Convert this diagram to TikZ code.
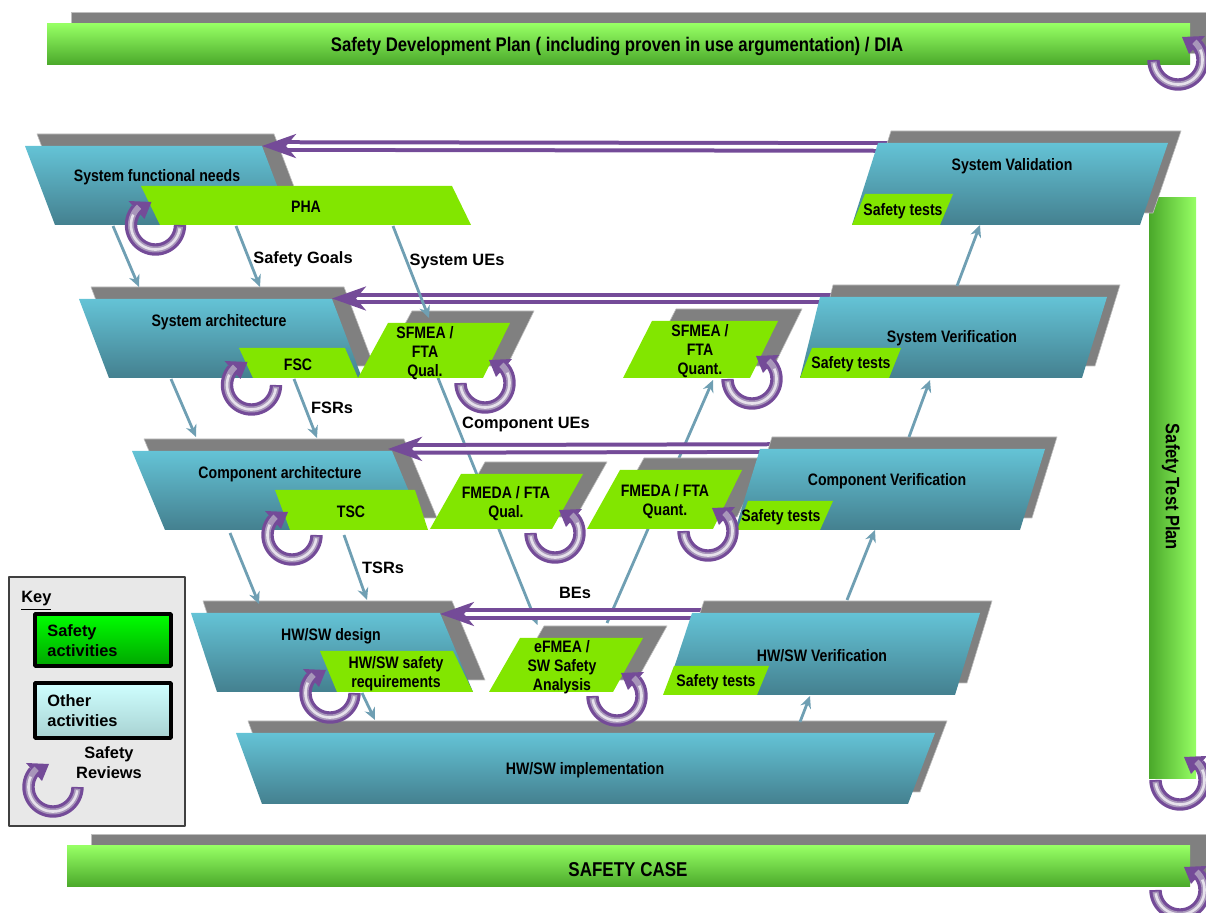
\documentclass[tikz,border=0pt]{standalone}
\usepackage{fontspec}
\setmainfont{Liberation Sans}
\newfontfamily\boxfont{Liberation Sans}[FakeStretch=0.85]
\usetikzlibrary{arrows.meta}
\definecolor{actblue}{HTML}{64C3D6}
\definecolor{actmid}{HTML}{5BAEC0}
\definecolor{actbluedk}{HTML}{44808F}
\definecolor{actgreen}{HTML}{82E600}
\definecolor{barlight}{HTML}{96FF64}
\definecolor{bardark}{HTML}{4AA82A}
\definecolor{flowblue}{HTML}{6F9FB3}
\definecolor{reviewpurple}{HTML}{744B98}
\definecolor{reviewmid}{HTML}{A896BA}
\definecolor{reviewcore}{HTML}{E6E1EB}
\definecolor{otherlight}{HTML}{CFFFFF}
\definecolor{otherdark}{HTML}{A8D2D2}
\newcommand{\bluebox}[7]{
\fill[backdrop] (#1+#7,#5-12) -- (#2+#7,#5-12) -- (#4+#7,#6-12) -- (#3+#7,#6-12) -- cycle;
\shade[blueact] (#1,#5) -- (#2,#5) -- (#4,#6) -- (#3,#6) -- cycle;}
\newcommand{\greenbox}[7]{
\fill[backdrop] (#1+#7,#5-12) -- (#2+#7,#5-12) -- (#4+#7,#6-12) -- (#3+#7,#6-12) -- cycle;
\fill[greenact] (#1,#5) -- (#2,#5) -- (#4,#6) -- (#3,#6) -- cycle;}
\begin{document}
\begin{tikzpicture}[x=0.5pt,y=-0.5pt,line join=round,
backdrop/.style={fill=black!50,draw=black!25,line width=0.3pt},
blueact/.style={top color=actblue,middle color=actmid,bottom color=actbluedk},
greenact/.style={fill=actgreen},
planbar/.style={top color=barlight,bottom color=bardark},
flow/.style={draw=flowblue,line width=1.4pt,-{Stealth[length=6pt,width=5.5pt]}},
feedback/.style={draw=reviewpurple,line width=2pt,double=white,double distance=1.8pt,-{Stealth[length=17pt,width=12pt,inset=5pt]}},
boxtext/.style={inner sep=0pt,align=center,yshift=-1pt,font=\boxfont\bfseries\fontsize{8.3}{9.6}\selectfont},
flowtext/.style={inner sep=0pt,align=center,yshift=-1pt,font=\bfseries\fontsize{8.2}{10}\selectfont},
keytext/.style={inner sep=0pt,align=left,anchor=west,font=\bfseries\fontsize{8.2}{10}\selectfont}]
\useasboundingbox (0,0) rectangle (1206,913);
\clip (0,0) rectangle (1206,913);
\fill[backdrop] (71,12) rectangle (1207,53);
\shade[planbar] (47,24) rectangle (1190,65);
\fill[backdrop] (91,834) rectangle (1207,875);
\shade[planbar] (67,846) rectangle (1190,887);
\shade[left color=bardark,right color=barlight] (1149,198) rectangle (1196,779);
\foreach \n/\x/\y in {ceA/438/378,ceB/537.5/625,mcA/607/623,mcB/713/380}{\coordinate (\n) at (\x,\y);}
\draw[flow] (ceA) -- (ceB);
\draw[flow] (mcA) -- (mcB);
\bluebox{25}{262}{55}{292}{146}{225}{12}
\bluebox{79}{332}{109}{362}{299}{378}{12}
\bluebox{132}{392}{165}{425}{451}{530}{12}
\bluebox{191}{440}{217}{473}{613}{692}{12}
\bluebox{236}{935}{262}{908}{733}{804}{12}
\greenbox{388}{510}{358}{483}{323}{378}{24}
\greenbox{652}{778}{623}{750}{321}{378}{24}
\greenbox{461}{583}{430}{552}{474}{529}{24}
\greenbox{620}{742}{587}{713}{470}{529}{24}
\greenbox{520}{643}{489}{613}{638}{692}{24}
\foreach \n/\x/\y in {sysA/900/147,sysB/262/146,arcA/850/298.5,arcB/332/298.5,cmpA/790/448,cmpB/388/449,hwA/720/614,hwB/440/614}{\coordinate (\n) at (\x,\y);}
\foreach \a/\b in {sysA/sysB,arcA/arcB,cmpA/cmpB,hwA/hwB}{\draw[feedback] (\a) -- (\b);}
\bluebox{878}{1168}{852}{1140}{143}{225}{13}
\bluebox{820}{1107}{800}{1082}{297}{378}{13}
\bluebox{760}{1045}{735}{1020}{449}{530}{12}
\bluebox{692}{980}{665}{955}{613}{695}{12}
\foreach \xa/\xb/\xc/\xd/\yt/\yb in {141/452/160/471/186/225,239/345/253/358/348/378,275/415/290/428/490/530,320/453/337/473/651/692,865/953/852/940/194/225,812/901/800/889/348/378,748/833/737/820/501/530,674/769/663/757/666/695}{
\fill[greenact] (\xa,\yt) -- (\xb,\yt) -- (\xd,\yb) -- (\xc,\yb) -- cycle;}
\foreach \n/\x/\y in {fnA/113/226,fnB/139/287,sgA/236/226,sgB/260/287,ueA/393/226,ueB/429/318,saA/171/379,saB/196/437,frA/294/379,frB/317/438,caA/230/533,caB/259/604,trA/344/535,trB/367/600,hwrA/362/693,hwrB/375/720,imA/800/722,imB/810/696,hvA/847/600,hvB/875/530,cvA/909/437,cvB/930/380,svA/957/286,svB/980/225}{\coordinate (\n) at (\x,\y);}
\foreach \a/\b in {fnA/fnB,sgA/sgB,ueA/ueB,saA/saB,frA/frB,caA/caB,trA/trB,hwrA/hwrB,imA/imB,hvA/hvB,cvA/cvB,svA/svB}{\draw[flow] (\a) -- (\b);}
\fill[black!9] (9,577) rectangle (185,826);
\draw[black!75,line width=0.6pt] (9,577) rectangle (185,826);
\shade[top color=green,bottom color=green!65!black,draw=black,line width=1.8pt] (35,614) rectangle (171,666);
\shade[top color=otherlight,bottom color=otherdark,draw=black,line width=1.8pt] (35,683) rectangle (171,738);
\foreach \cx/\cy/\d in {155.5/225/-1,251.5/385/-1,292/535/-1,330/693/-1,53/787/-1,1178/60/1,1180/780/1,1180/890/1,485/383/1,752/379/1,555/533/1,708/531/1,617/696/1}{
\draw[reviewpurple,line width=6.2pt] plot[smooth,samples=45,domain=180:-40] ({\cx+\d*24.5*cos(\x)},{\cy+24.5*sin(\x)});
\fill[reviewpurple] (\cx+\d*4,\cy-23) -- (\cx+\d*27,\cy-24) -- (\cx+\d*11,\cy-6) -- cycle;
\draw[reviewmid,line width=3pt] plot[smooth,samples=45,domain=176:-48] ({\cx+\d*24.5*cos(\x)},{\cy+24.5*sin(\x)});
\draw[reviewcore,line width=1.3pt] plot[smooth,samples=45,domain=172:-25] ({\cx+\d*24.5*cos(\x)},{\cy+24.5*sin(\x)});
}
\node[boxtext,font=\boxfont\bfseries\fontsize{9.85}{11}\selectfont] (plan) at (617,44) {Safety Development Plan ( including proven in use argumentation) / DIA};
\node[boxtext,font=\boxfont\bfseries\fontsize{10}{12}\selectfont] (case) at (628,868) {SAFETY CASE};
\node[boxtext,font=\boxfont\bfseries\fontsize{9.7}{11}\selectfont,rotate=-90] (testplan) at (1171,485) {Safety Test Plan};
\node[boxtext] (needs) at (157,175) {System functional needs};
\node[boxtext] (pha) at (306,205) {PHA};
\node[boxtext] (sysarch) at (219,320) {System architecture};
\node[boxtext] (fsc) at (298,363) {FSC};
\node[boxtext] (sfqual) at (425,351) {SFMEA /\\FTA\\Qual.};
\node[boxtext] (sfquant) at (700,349) {SFMEA /\\FTA\\Quant.};
\node[boxtext] (sysval) at (1012,164) {System Validation};
\node[boxtext] (testa) at (903,209) {Safety tests};
\node[boxtext] (sysver) at (952,336) {System Verification};
\node[boxtext] (testb) at (851,362) {Safety tests};
\node[boxtext] (comparch) at (280,472) {Component architecture};
\node[boxtext] (tsc) at (351,510) {TSC};
\node[boxtext] (fmqual) at (506,502) {FMEDA / FTA\\Qual.};
\node[boxtext] (fmquant) at (665,500) {FMEDA / FTA\\Quant.};
\node[boxtext] (compver) at (887,479) {Component Verification};
\node[boxtext] (testc) at (781,515) {Safety tests};
\node[boxtext] (hwdesign) at (331,634) {HW/SW design};
\node[boxtext] (hwreq) at (396,672) {HW/SW safety\\requirements};
\node[boxtext] (efmea) at (562,665) {eFMEA /\\SW Safety\\Analysis};
\node[boxtext] (hwver) at (822,654) {HW/SW Verification};
\node[boxtext] (testd) at (716,680) {Safety tests};
\node[boxtext] (hwimpl) at (585,768) {HW/SW implementation};
\node[flowtext] (goals) at (303,257) {Safety Goals};
\node[flowtext] (sysues) at (457,259) {System UEs};
\node[flowtext] (fsrs) at (332,406) {FSRs};
\node[flowtext] (compues) at (526,422) {Component UEs};
\node[flowtext] (tsrs) at (383,566) {TSRs};
\node[flowtext] (bes) at (575,591) {BEs};
\node[keytext] (key) at (21,601) {\underline{Key}};
\node[keytext] (safekey) at (47,641) {Safety\\activities};
\node[keytext] (otherkey) at (47,711) {Other\\activities};
\node[flowtext] (reviewkey) at (109,761) {Safety\\Reviews};
\end{tikzpicture}
\end{document}
